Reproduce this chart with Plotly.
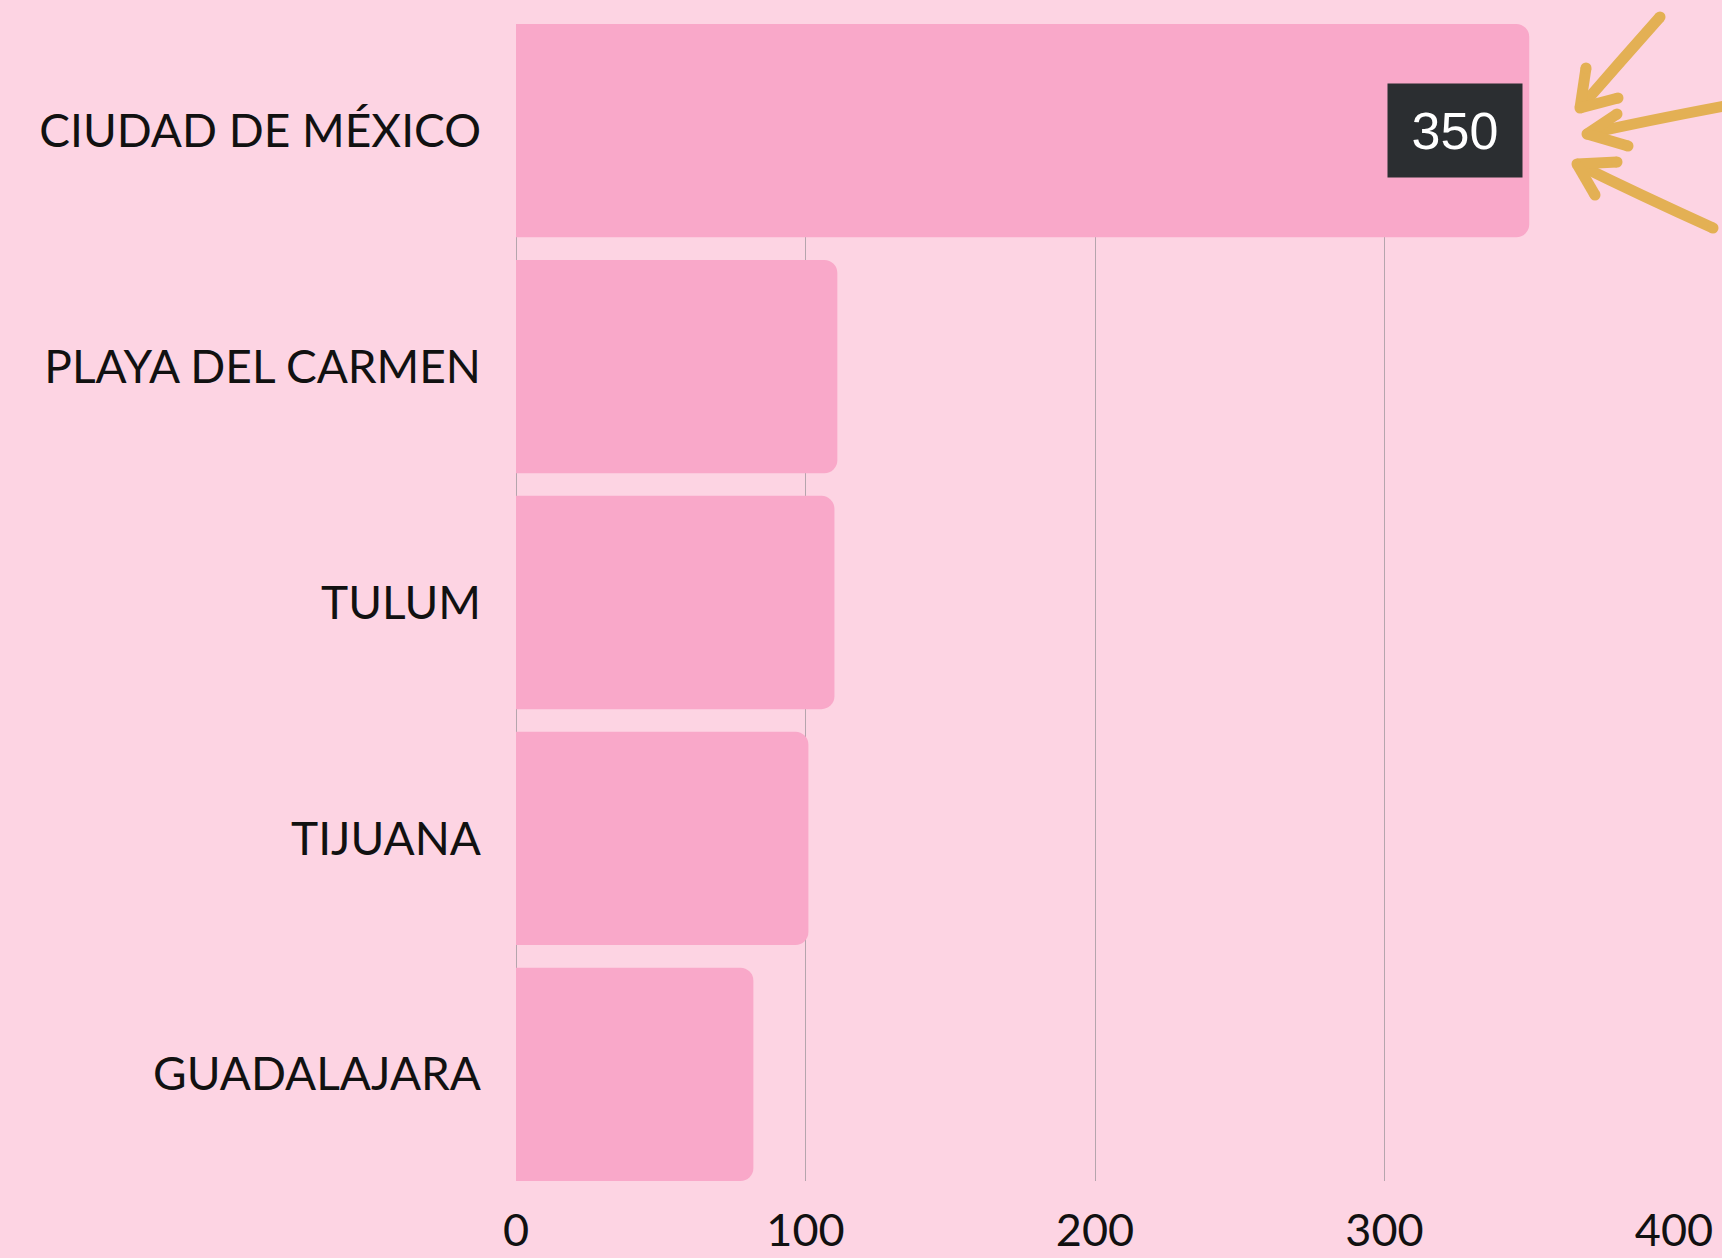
import plotly.graph_objects as go

categories = ["CIUDAD DE MÉXICO", "PLAYA DEL CARMEN", "TULUM", "TIJUANA", "GUADALAJARA"]
values = [350, 111, 110, 101, 82]
x_ticks = [0, 100, 200, 300, 400]
highlight_label = "350"

W, H = 1722, 1258
L, R, T, B = 516, 48, 24, 77
BG = "#FDD4E3"
BAR = "#F9A8C9"
ARROW = "#E3B054"
LABEL_FONT = "Lato"

fig = go.Figure()
fig.add_trace(go.Bar(
    x=values, y=categories, orientation="h",
    marker=dict(color=BAR, line=dict(width=0), cornerradius=13),
    hoverinfo="skip",
))

fig.update_layout(
    width=W, height=H,
    margin=dict(l=L, r=R, t=T, b=B, autoexpand=False),
    paper_bgcolor=BG, plot_bgcolor=BG,
    bargap=0.096,
    showlegend=False,
    xaxis=dict(
        range=[0, 400], tickvals=x_ticks, ticktext=[str(v) for v in x_ticks],
        showgrid=True, gridcolor="#B5A5AD", gridwidth=1,
        zeroline=True, zerolinecolor="#B5A5AD", zerolinewidth=1,
        showline=False, ticks="",
        tickfont=dict(family=LABEL_FONT, size=45, color="#111111"),
        ticklabelstandoff=19,
        fixedrange=True,
    ),
    yaxis=dict(
        categoryorder="array", categoryarray=categories,
        range=[4.452, -0.452],
        showgrid=False, zeroline=False, showline=False, ticks="",
        tickfont=dict(family=LABEL_FONT, size=46, color="#111111"),
        ticklabelstandoff=34,
        fixedrange=True,
    ),
)

# value label box on the top bar
fig.add_annotation(
    x=values[0], y=categories[0], xref="x", yref="y",
    text=highlight_label, showarrow=False,
    xanchor="right", yanchor="middle", xshift=-6,
    width=134, height=93, borderpad=0,
    bgcolor="#2B2E31",
    font=dict(family="Liberation Sans", size=52, color="#FFFFFF"),
)

# decorative hand-drawn arrows (pixel geometry -> paper coordinates)
pw, ph = W - L - R, H - T - B

def px(x, y):
    return (x - L) / pw, (H - B - y) / ph

LW = 11
arrows = [
    # (start, control, tip, arm1, arm2)
    ((1660, 17), (1620, 62), (1580, 108), (1586, 68), (1618, 98)),
    ((1730, 105), (1650, 120), (1587, 134), (1617, 114), (1628, 146)),
    ((1713, 228), (1640, 195), (1577, 164), (1617, 162), (1595, 195)),
]

def cap(x, y):
    r = LW / 2
    x0, y0 = px(x - r, y + r)
    x1, y1 = px(x + r, y - r)
    fig.add_shape(type="circle", xref="paper", yref="paper",
                  x0=x0, y0=y0, x1=x1, y1=y1,
                  fillcolor=ARROW, line=dict(width=0), layer="above")

for s, c, t, a1, a2 in arrows:
    sx, sy = px(*s); cx, cy = px(*c); tx, ty = px(*t)
    fig.add_shape(type="path", xref="paper", yref="paper",
                  path=f"M {sx},{sy} Q {cx},{cy} {tx},{ty}",
                  line=dict(color=ARROW, width=LW), layer="above")
    cap(*s)
    cap(*t)
    for a in (a1, a2):
        ax, ay = px(*a)
        fig.add_shape(type="path", xref="paper", yref="paper",
                      path=f"M {ax},{ay} L {tx},{ty}",
                      line=dict(color=ARROW, width=LW), layer="above")
        cap(*a)

fig.write_html(
    "out.html",
    config={"displayModeBar": False},
    post_script="document.body.style.margin='0';document.body.style.overflow='hidden';",
)
